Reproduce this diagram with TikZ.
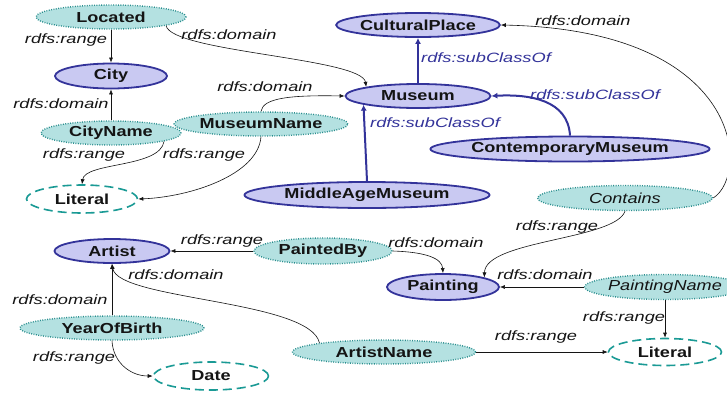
\documentclass[tikz,border=0pt]{standalone}
\usepackage{fontspec}
\setmainfont{Liberation Sans}
\newfontfamily\rdfnodefont[FakeStretch=1.25]{Liberation Sans}
\newfontfamily\rdflabelfont[FakeStretch=1.35]{Liberation Sans}
\usepackage{xcolor}
\usepackage{tikz}
\usetikzlibrary{arrows.meta,shapes.geometric}
\definecolor{rdfClassFill}{HTML}{C9C9F2}
\definecolor{rdfClassLine}{HTML}{33339A}
\definecolor{rdfPropFill}{HTML}{B4E1E1}
\definecolor{rdfPropLine}{HTML}{2A8E8E}
\definecolor{rdfLitLine}{HTML}{1A9A95}
\definecolor{rdfInk}{HTML}{141414}
\tikzset{
  rdf diagram/.style={x=1pt, y=-1pt, text=rdfInk},
  rdf node/.style={ellipse, inner sep=0pt,
    font=\rdfnodefont\bfseries\fontsize{14.5}{16}\selectfont},
  rdf class/.style={rdf node, draw=rdfClassLine, fill=rdfClassFill, line width=1.8pt},
  rdf property/.style={rdf node, draw=rdfPropLine, fill=rdfPropFill,
    line width=1.4pt, dash pattern=on 0.9pt off 1.5pt},
  rdf property it/.style={rdf property,
    font=\rdfnodefont\itshape\fontsize{14.5}{16}\selectfont},
  rdf literal/.style={rdf node, draw=rdfLitLine, fill=white, line width=1.6pt,
    dash pattern=on 9pt off 5pt},
  rdf arrow/.style={-{Latex[length=5pt, width=4pt]}, draw=rdfInk, line width=0.6pt},
  rdf sub/.style={-{Latex[length=6pt, width=6pt]}, draw=rdfClassLine, line width=2pt},
  rdf label/.style={font=\rdflabelfont\itshape\fontsize{13.5}{15}\selectfont, text=rdfInk},
  rdf sublabel/.style={rdf label, text=rdfClassLine}
}
\begin{document}
\begin{tikzpicture}[rdf diagram]
\path[use as bounding box, fill=white] (0,0) rectangle (727,394);
% classes, properties and literals
\node[rdf property, minimum width=150pt, minimum height=24pt] (located) at (111,17) {Located};
\node[rdf class, minimum width=112pt, minimum height=25pt] (city) at (111,76) {City};
\node[rdf property, minimum width=140pt, minimum height=24pt] (cityname) at (111,133) {CityName};
\node[rdf literal, minimum width=111pt, minimum height=28pt] (literalA) at (82,199) {Literal};
\node[rdf property, minimum width=138pt, minimum height=24pt] (museumname) at (261,124) {MuseumName};
\node[rdf class, minimum width=145pt, minimum height=24pt] (museum) at (418,96) {Museum};
\node[rdf class, minimum width=148pt, minimum height=24pt] (culturalplace) at (418,25) {CulturalPlace};
\node[rdf class, minimum width=236pt, minimum height=25pt] (contemporary) at (570,149) {ContemporaryMuseum};
\node[rdf class, minimum width=245pt, minimum height=26pt] (middleage) at (367,195) {MiddleAgeMuseum};
\node[rdf property it, minimum width=175pt, minimum height=25pt] (contains) at (625,198) {Contains};
\node[rdf class, minimum width=115pt, minimum height=24pt] (artist) at (112,251) {Artist};
\node[rdf property, minimum width=138pt, minimum height=26pt] (paintedby) at (323,251) {PaintedBy};
\node[rdf class, minimum width=112pt, minimum height=26pt] (painting) at (443,287) {Painting};
\node[rdf property it, minimum width=132pt, minimum height=25pt] (paintingname) at (665,287) {PaintingName};
\node[rdf property, minimum width=184pt, minimum height=24pt] (yearofbirth) at (112,328) {YearOfBirth};
\node[rdf literal, minimum width=115pt, minimum height=28pt] (date) at (211,376) {Date};
\node[rdf property, minimum width=183pt, minimum height=24pt] (artistname) at (384,352) {ArtistName};
\node[rdf literal, minimum width=113pt, minimum height=27pt] (literalB) at (665,352) {Literal};
% subclass links
\draw[rdf sub] (museum) -- (culturalplace);
\draw[rdf sub] (middleage.north) -- (museum.189.5);
\draw[rdf sub] (contemporary.north) .. controls (568,100) and (530,94) .. (museum.east);
\node[rdf sublabel] (sub1) at (486,58) {rdfs:subClassOf};
\node[rdf sublabel] (sub2) at (435,123) {rdfs:subClassOf};
\node[rdf sublabel] (sub3) at (595,95) {rdfs:subClassOf};
% domains and ranges
\draw[rdf arrow] (located) -- (city);
\node[rdf label] (lab1) at (66,40) {rdfs:range};
\draw[rdf arrow] (located.-9) .. controls (172,52) and (362,58) .. (museum.170);
\node[rdf label] (lab2) at (229,35) {rdfs:domain};
\draw[rdf arrow] (cityname) -- (city);
\node[rdf label] (lab3) at (61,104) {rdfs:domain};
\draw[rdf arrow] (cityname.-9) .. controls (160,168) and (85,162) .. (literalA.north);
\node[rdf label] (lab4) at (84,155) {rdfs:range};
\draw[rdf arrow] (museumname.south) .. controls (258,175) and (190,197) .. (literalA.east);
\node[rdf label] (lab5) at (204,155) {rdfs:range};
\draw[rdf arrow] (museumname.north) .. controls (263,98) and (290,95) .. (museum.west);
\node[rdf label] (lab6) at (265,87) {rdfs:domain};
\draw[rdf arrow] (contains.east) .. controls (750,175) and (745,30) .. (culturalplace.east);
\node[rdf label] (lab7) at (583,21) {rdfs:domain};
\draw[rdf arrow] (contains.south) .. controls (615,240) and (485,240) .. (painting.13);
\node[rdf label] (lab8) at (557,227) {rdfs:range};
\draw[rdf arrow] (paintedby) -- (artist);
\node[rdf label] (lab9) at (222,241) {rdfs:range};
\draw[rdf arrow] (paintedby.east) .. controls (425,252) and (442,258) .. (painting.north);
\node[rdf label] (lab10) at (436,243) {rdfs:domain};
\draw[rdf arrow] (paintingname) -- (painting);
\node[rdf label] (lab11) at (545,275) {rdfs:domain};
\draw[rdf arrow] (paintingname) -- (literalB);
\node[rdf label] (lab12) at (624,318) {rdfs:range};
\draw[rdf arrow] (artistname) -- (literalB);
\node[rdf label] (lab13) at (536,337) {rdfs:range};
\draw[rdf arrow] (artistname.172) .. controls (310,300) and (118,300) .. (artist.south);
\node[rdf label] (lab14) at (176,275) {rdfs:domain};
\draw[rdf arrow] (yearofbirth) -- (artist);
\node[rdf label] (lab15) at (60,300) {rdfs:domain};
\draw[rdf arrow] (yearofbirth.south) .. controls (113,362) and (130,376) .. (date.west);
\node[rdf label] (lab16) at (74,358) {rdfs:range};
\end{tikzpicture}
\end{document}
